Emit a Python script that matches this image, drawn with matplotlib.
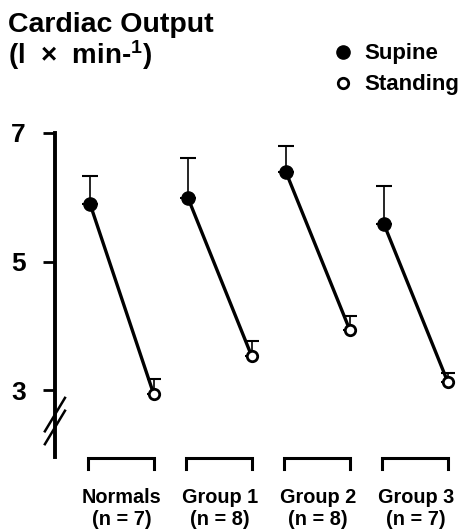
import matplotlib
matplotlib.use("Agg")
import matplotlib.pyplot as plt
import numpy as np

plt.rcParams['font.family'] = ['Liberation Sans', 'DejaVu Sans']
plt.rcParams['font.weight'] = 'bold'
plt.rcParams['mathtext.fontset'] = 'custom'
plt.rcParams['mathtext.rm'] = 'Liberation Sans:bold'
plt.rcParams['mathtext.default'] = 'rm'

# values (l x min-1)
groups = ["Normals", "Group 1", "Group 2", "Group 3"]
n_subj = [7, 8, 8, 7]
supine = [5.90, 5.99, 6.39, 5.58]
supine_err = [0.43, 0.62, 0.41, 0.60]
standing = [2.94, 3.53, 3.94, 3.13]
standing_err = [0.23, 0.24, 0.21, 0.14]
yticks = [3, 5, 7]

x_sup = np.arange(len(groups), dtype=float)
x_std = x_sup + 0.65

fig = plt.figure(figsize=(4.62, 5.29), dpi=100)
ax = fig.add_axes([0.119, 0.102, 0.881, 0.671])

# error bars (upper only)
ax.errorbar(x_sup, supine, yerr=[np.zeros(4), supine_err], fmt='none',
            ecolor='black', elinewidth=1.2, capsize=6, capthick=1.5, zorder=2)
ax.errorbar(x_std, standing, yerr=[np.zeros(4), standing_err], fmt='none',
            ecolor='black', elinewidth=1.2, capsize=5, capthick=1.5, zorder=2)

for i in range(len(groups)):
    ax.plot([x_sup[i], x_std[i]], [supine[i], standing[i]], color='black',
            lw=2.4, solid_capstyle='butt', zorder=3)
ax.plot(x_sup, supine, 'o', ms=9.5, color='black', zorder=4, label='Supine')
ax.plot(x_std, standing, 'o', ms=7.5, mfc='white', mec='black', mew=2,
        zorder=4, label='Standing')

# brackets under each pair
by, bd = 1.95, 0.17
for i in range(len(groups)):
    ax.plot([x_sup[i] - 0.02, x_sup[i] - 0.02, x_std[i], x_std[i]],
            [by - bd, by, by, by - bd], color='black', lw=2.2,
            solid_joinstyle='miter', clip_on=False)

ax.set_xlim(-0.357, 3.796)
ax.set_ylim(1.68, 7.20)

ax.set_xticks((x_sup + x_std) / 2)
ax.set_xticklabels([f"{g}\n(n = {k})" for g, k in zip(groups, n_subj)],
                   fontsize=14.3, fontweight='bold', linespacing=1.25)
ax.tick_params(axis='x', length=0, pad=9)

ax.set_yticks(yticks)
ax.set_yticklabels([str(t) for t in yticks], fontsize=19, fontweight='bold')
ax.tick_params(axis='y', length=9, width=2, pad=12)

for s in ['top', 'right', 'bottom']:
    ax.spines[s].set_visible(False)
ax.spines['left'].set_linewidth(2.8)
ax.spines['left'].set_bounds(1.96, 7.0)

# axis break marks
for yb in [2.42, 2.62]:
    ax.plot([-0.46, -0.255], [yb - 0.26, yb + 0.26], color='black', lw=1.8,
            clip_on=False)

fig.text(0.017, 0.9395, "Cardiac Output", fontsize=20.5, fontweight='bold',
         va='baseline')
fig.text(0.017, 0.879, r"(l  ×  min-$^{1}$)", fontsize=20, fontweight='bold',
         va='baseline')

ax.legend(loc='upper left', bbox_to_anchor=(0.724, 0.918),
          bbox_transform=fig.transFigure, frameon=False, fontsize=16,
          handlelength=0.8, handletextpad=0.55, labelspacing=0.45,
          borderpad=0, borderaxespad=0, numpoints=1)

fig.savefig("out.png", dpi=100)
